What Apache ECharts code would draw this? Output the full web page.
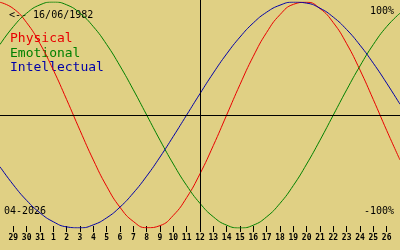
<!DOCTYPE html>
<html>
<head>
<meta charset="utf-8">
<script src="https://cdn.jsdelivr.net/npm/echarts@6/dist/echarts.min.js"></script>
<style>
html,body{margin:0;padding:0;background:#e0d084;}
#c{width:400px;height:250px;}
</style>
</head>
<body>
<div id="c"></div>
<script>
// Day labels (28 Mar .. 27 Apr 2026); first and last are off-tick edges
var dayLabels = ['28','29','30','31','1','2','3','4','5','6','7','8','9','10','11','12','13','14','15','16','17','18','19','20','21','22','23','24','25','26','27'];
var todayIndex = 15;
var physical = [99.8,94.2,81.7,63.1,39.8,13.6,-13.6,-39.8,-63.1,-81.7,-94.2,-99.8,-97.9,-88.8,-73.1,-52.0,-27.0,0,27.0,52.0,73.1,88.8,97.9,99.8,94.2,81.7,63.1,39.8,13.6,-13.6,-39.8];
var emotional = [62.4,78.2,90.1,97.5,100,97.5,90.1,78.2,62.4,43.4,22.3,0,-22.3,-43.4,-62.4,-78.2,-90.1,-97.5,-100,-97.5,-90.1,-78.2,-62.4,-43.4,-22.3,0,22.3,43.4,62.4,78.2,90.1];
var intellectual = [-45.8,-61.8,-75.6,-86.6,-94.5,-99.0,-99.9,-97.2,-91.0,-81.5,-69.0,-54.1,-37.2,-18.9,0,18.9,37.2,54.1,69.0,81.5,91.0,97.2,99.9,99.0,94.5,86.6,75.6,61.8,45.8,28.2,9.5];
var seriesNames = ['Physical','Emotional','Intellectual'];
var birthText = '<-- 16/06/1982';
var monthText = '04-2026';
var topText = '100%';
var bottomText = '-100%';

var colors = ['#e80000','#008000','#0000a8'];
var mono = '"DejaVu Sans Mono", "Liberation Mono", monospace';

var chart = echarts.init(document.getElementById('c'), null, {renderer:'canvas'});
function edge(i){ return i !== 0 && i !== dayLabels.length - 1; }
var option = {
  backgroundColor: '#e0d084',
  animation: false,
  grid: {left:0, right:0, top:2, height:226},
  xAxis: {
    type:'category', data: dayLabels, boundaryGap:false, offset:-2, position:'bottom',
    axisLine:{show:false, onZero:false},
    axisTick:{show:true, length:6, interval:function(i){return edge(i);}, lineStyle:{color:'#000', width:1}},
    axisLabel:{interval:function(i){return edge(i);}, color:'#000', fontFamily:mono, fontSize:8, fontWeight:'bold', margin:8},
    splitLine:{show:false}
  },
  yAxis: {type:'value', min:-100, max:100, show:false},
  series: [
    {name:seriesNames[0], type:'line', data:physical, smooth:true, showSymbol:false, lineStyle:{color:colors[0], width:1}, z:3,
     markLine:{silent:true, symbol:'none', label:{show:false}, lineStyle:{color:'#000', width:1, type:'solid'},
       data:[{yAxis:0},[{coord:[todayIndex,100], y:0},{coord:[todayIndex,-100], y:227}]]}},
    {name:seriesNames[1], type:'line', data:emotional, smooth:true, showSymbol:false, lineStyle:{color:colors[1], width:1}, z:3},
    {name:seriesNames[2], type:'line', data:intellectual, smooth:true, showSymbol:false, lineStyle:{color:colors[2], width:1}, z:3}
  ],
  graphic: [
    {type:'text', left:9, top:10, style:{text:birthText, fill:'#000', font:'10px '+mono}},
    {type:'text', left:10, top:32, style:{text:seriesNames[0], fill:colors[0], font:'13px '+mono}},
    {type:'text', left:10, top:47, style:{text:seriesNames[1], fill:colors[1], font:'13px '+mono}},
    {type:'text', left:10, top:61, style:{text:seriesNames[2], fill:colors[2], font:'13px '+mono}},
    {type:'text', right:6, top:6, style:{text:topText, fill:'#000', font:'10px '+mono}},
    {type:'text', right:6, top:206, style:{text:bottomText, fill:'#000', font:'10px '+mono}},
    {type:'text', left:4, top:206, style:{text:monthText, fill:'#000', font:'10px '+mono}}
  ]
};
chart.setOption(option);
</script>
</body>
</html>
